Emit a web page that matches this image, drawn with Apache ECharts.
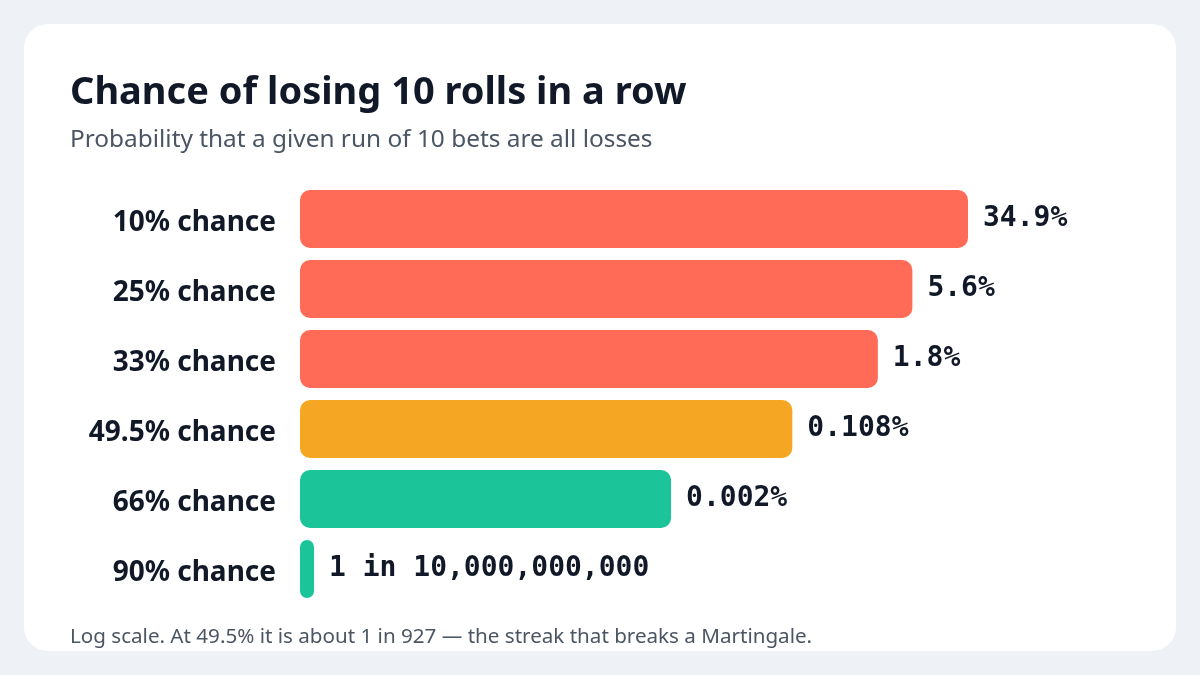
<!DOCTYPE html>
<html>
<head>
<meta charset="utf-8">
<script src="https://cdn.jsdelivr.net/npm/echarts@6/dist/echarts.min.js"></script>
<style>
  html, body { margin: 0; padding: 0; background: #EEF1F5; }
  #chart { width: 1200px; height: 675px; }
</style>
</head>
<body>
<div id="chart"></div>
<script>
const categories = ['10% chance', '25% chance', '33% chance', '49.5% chance', '66% chance', '90% chance'];
// probability that 10 bets in a row are all losses
const values = [0.349, 0.056, 0.018, 0.00108, 0.00002, 1e-10];
const valueLabels = ['34.9%', '5.6%', '1.8%', '0.108%', '0.002%', '1 in 10,000,000,000'];
const barColors = ['#FF6B57', '#FF6B57', '#FF6B57', '#F5A623', '#1CC49A', '#1CC49A'];
const titleText = 'Chance of losing 10 rolls in a row';
const subtitleText = 'Probability that a given run of 10 bets are all losses';
const footnoteText = 'Log scale. At 49.5% it is about 1 in 927 \u2014 the streak that breaks a Martingale.';

// Plotted in "runs per 10 billion" so the log axis starts at 1 (ECharts bar base on a log axis).
const UNIT = 1e-10;
const plotted = values.map(v => v / UNIT);

const chart = echarts.init(document.getElementById('chart'), null, { renderer: 'canvas' });
chart.setOption({
  backgroundColor: '#EEF1F5',
  animation: false,
  graphic: [
    { type: 'rect', z: -10, shape: { x: 24, y: 24, width: 1152, height: 627, r: 24 }, style: { fill: '#FFFFFF' } },
    { type: 'text', z: 10, left: 70, top: 74, style: { text: titleText, font: 'bold 38px "Noto Sans"', fill: '#111827' } },
    { type: 'text', z: 10, left: 70, top: 128, style: { text: subtitleText, font: '24.4px "Noto Sans"', fill: '#4B5563' } },
    { type: 'text', z: 10, left: 70, top: 627, style: { text: footnoteText, font: '20.6px "Noto Sans"', fill: '#4B5563' } },
    { type: 'rect', z: 20, shape: { x: 0, y: 651, width: 1200, height: 24 }, style: { fill: '#EEF1F5' } }
  ],
  grid: { left: 300, width: 668, top: 184, height: 420, containLabel: false },
  xAxis: {
    type: 'log', logBase: 10, min: 1, max: Math.max.apply(null, plotted),
    show: false, splitLine: { show: false }
  },
  yAxis: {
    type: 'category', data: categories, inverse: true,
    axisLine: { show: false }, axisTick: { show: false }, splitLine: { show: false },
    axisLabel: {
      margin: 24,
      formatter: v => '{c|' + v + '}',
      rich: { c: { padding: [8, 0, 0, 0], color: '#111827', fontFamily: 'Noto Sans', fontWeight: 'bold', fontSize: 28 } }
    }
  },
  series: [{
    type: 'bar',
    data: plotted.map((v, i) => ({ value: v, itemStyle: { color: barColors[i] } })),
    barWidth: 58,
    barMinHeight: 14,
    itemStyle: { borderRadius: 10 },
    label: {
      show: true, position: 'right', distance: 15,
      formatter: p => valueLabels[p.dataIndex],
      fontFamily: 'DejaVu Sans Mono', fontWeight: 'bold', fontSize: 28, color: '#111827'
    }
  }]
});
</script>
</body>
</html>
